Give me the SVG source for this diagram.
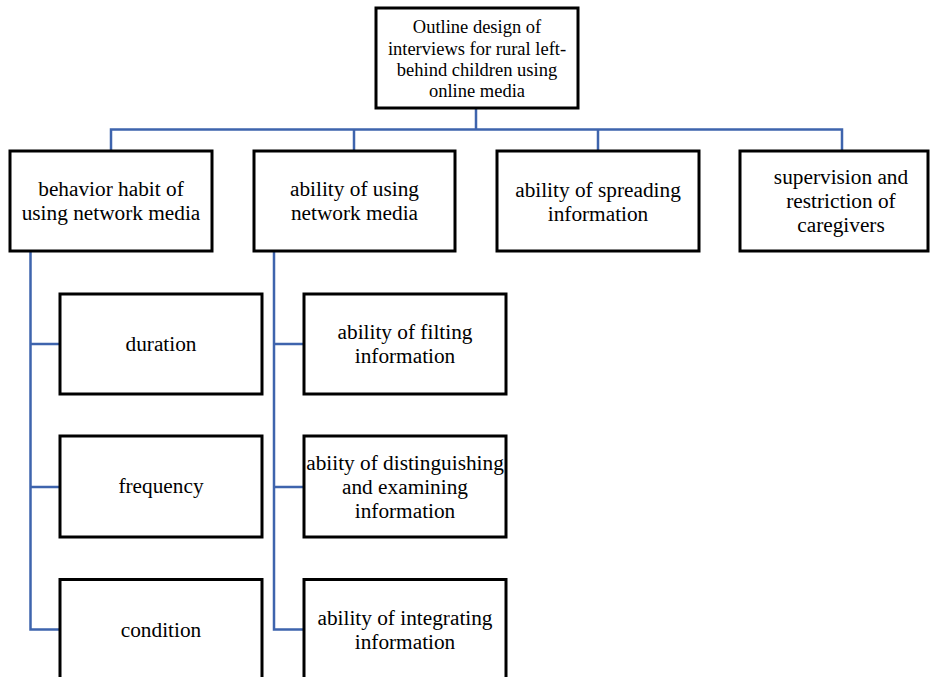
<svg xmlns="http://www.w3.org/2000/svg" width="930" height="677" viewBox="0 0 930 677">
<style>
.box{fill:#fff;stroke:#000;stroke-width:3}
.conn{fill:none;stroke:#3E64AD;stroke-width:2.5}
text{font-family:'Liberation Serif','Times New Roman',serif;fill:#000;text-anchor:middle}
.t1{font-size:18.5px}
.t2{font-size:21.3px}
</style>
<rect width="930" height="677" fill="#fff"/>
<g id="connectors">
<path class="conn" d="M476 108V129.5M111 151V129.5H842V151M354 129.5V151M598 129.5V151"/>
<path class="conn" d="M30.5 251V629.5H60M30.5 344H60M30.5 487H60"/>
<path class="conn" d="M274 251V629.5H304M274 344H304M274 487H304"/>
</g>
<g id="root">
<rect class="box" x="376" y="8" width="202" height="100"/>
<text class="t1"><tspan x="477" y="33">Outline design of</tspan><tspan x="477" y="54.5">interviews for rural left-</tspan><tspan x="477" y="76">behind children using</tspan><tspan x="477" y="97">online media</tspan></text>
</g>
<g id="behavior">
<rect class="box" x="10" y="151" width="202" height="100"/>
<text class="t2"><tspan x="111" y="196">behavior habit of</tspan><tspan x="111" y="220">using network media</tspan></text>
</g>
<g id="ability-using">
<rect class="box" x="254" y="151" width="201" height="100"/>
<text class="t2"><tspan x="354.5" y="196">ability of using</tspan><tspan x="354.5" y="220">network media</tspan></text>
</g>
<g id="spreading">
<rect class="box" x="497" y="151" width="202" height="100"/>
<text class="t2"><tspan x="598" y="196.5">ability of spreading</tspan><tspan x="598" y="220.5">information</tspan></text>
</g>
<g id="supervision">
<rect class="box" x="740" y="151" width="188" height="100"/>
<text class="t2"><tspan x="841" y="184">supervision and</tspan><tspan x="841" y="208">restriction of</tspan><tspan x="841" y="232">caregivers</tspan></text>
</g>
<g id="duration">
<rect class="box" x="60" y="294" width="202" height="100"/>
<text class="t2" x="161" y="351">duration</text>
</g>
<g id="frequency">
<rect class="box" x="60" y="436" width="202" height="101"/>
<text class="t2" x="161" y="493">frequency</text>
</g>
<g id="condition">
<rect class="box" x="60" y="579.5" width="202" height="100"/>
<text class="t2" x="161" y="636.5">condition</text>
</g>
<g id="filting">
<rect class="box" x="304" y="294" width="202" height="100"/>
<text class="t2"><tspan x="405" y="339">ability of filting</tspan><tspan x="405" y="363">information</tspan></text>
</g>
<g id="distinguishing">
<rect class="box" x="304" y="436" width="202" height="101"/>
<text class="t2"><tspan x="405" y="469.5">abiity of distinguishing</tspan><tspan x="405" y="493.5">and examining</tspan><tspan x="405" y="518">information</tspan></text>
</g>
<g id="integrating">
<rect class="box" x="304" y="579.5" width="202" height="100"/>
<text class="t2"><tspan x="405" y="624.5">ability of integrating</tspan><tspan x="405" y="648.5">information</tspan></text>
</g>
</svg>
